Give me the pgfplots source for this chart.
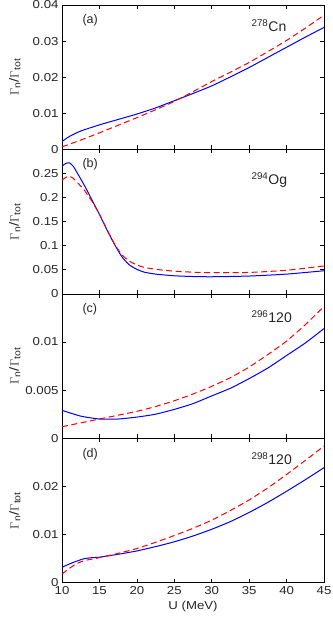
\documentclass[border=0pt]{standalone}
\usepackage{fontspec}
\setmainfont{Liberation Sans}[FakeStretch=1.15]
\newfontfamily\annfont{Liberation Sans}
\usepackage{pgfplots}
\pgfplotsset{compat=1.18}
\usepgfplotslibrary{groupplots}
\usetikzlibrary{calc}
\definecolor{mblue}{RGB}{0,0,255}
\definecolor{mred}{RGB}{255,0,0}
\definecolor{tickgray}{RGB}{38,38,38}

\begin{document}
\begin{tikzpicture}[font=\fontsize{12}{14}\selectfont,
    blue/.style={mblue},
    red/.style={mred, dash pattern=on 6pt off 3.5pt},
    tag/.style={anchor=west, font=\annfont\fontsize{12.5}{14}\selectfont, text=tickgray},
    nuc/.style={anchor=west, font=\annfont\fontsize{14}{16}\selectfont, text=tickgray}]
\begin{groupplot}[
    group style={group size=1 by 4, vertical sep=0pt,
                 x descriptions at=edge bottom},
    width=262pt, height=144.4pt, scale only axis,
    xmin=10, xmax=45, xtick={10,15,...,45},
    xticklabels={10,15,20,25,30,35,40,45},
    scaled x ticks=false, scaled y ticks=false,
    tick align=inside, tick pos=both, major tick length=4pt,
    tick label style={font=\fontsize{11.5}{14}\selectfont, text=tickgray},
    label style={font=\fontsize{11.5}{14}\selectfont, text=tickgray},
    axis line style={black, line width=0.6pt},
    every tick/.style={black, line width=0.6pt},
    xlabel={U (MeV)},
    ylabel={\fontsize{13}{14}\selectfont\(\Gamma\)\textsubscript{n}/\(\Gamma\)\textsubscript{tot}},
    ylabel style={at={(axis description cs:-0.18,0.5)}, anchor=center},
    every axis plot/.append style={line width=1pt, smooth, tension=0.35},
]
% (a) 278Cn
\nextgroupplot[ymin=0, ymax=0.04, ytick={0,0.01,0.02,0.03,0.04},
    yticklabels={0,0.01,0.02,0.03,0.04}]
\addplot[blue] coordinates {
    (10,0.0022) (11,0.0036) (12.5,0.0051) (15,0.0068) (17.5,0.0083)
    (20,0.0098) (22.5,0.0115) (25,0.0135) (27.5,0.0155) (30,0.0176) (32.5,0.0201)
    (35,0.0227) (37.5,0.0255) (40,0.0283) (42.5,0.0311) (45,0.0338)
};
\addplot[red] coordinates {
    (10,0.0007) (12.5,0.0026) (15,0.0046) (17.5,0.0067) (20,0.0088) (22.5,0.0110)
    (25,0.0133) (27.5,0.0160) (30,0.0188) (32.5,0.0214) (35,0.0241) (37.5,0.0271)
    (40,0.0302) (42.5,0.0336) (45,0.0372)
};
\node[tag] at (axis description cs:0.065,0.895) {(a)};
\node[nuc] at (axis description cs:0.71,0.855) {\textsuperscript{278}Cn};

% (b) 294Og
\nextgroupplot[ymin=0, ymax=0.3, ytick={0,0.05,0.1,0.15,0.2,0.25},
    yticklabels={0,0.05,0.1,0.15,0.2,0.25}]
\addplot[blue] coordinates {
    (10,0.265) (10.5,0.271) (11,0.272) (11.5,0.265) (12,0.252) (13,0.225)
    (14,0.195) (15,0.165) (16,0.133) (17,0.103) (18,0.077) (19,0.060)
    (20,0.051) (21,0.045) (22.5,0.041) (25,0.0375) (27.5,0.036) (30,0.0355)
    (35,0.037) (40,0.041) (45,0.048)
};
\addplot[red] coordinates {
    (10,0.236) (10.5,0.242) (11,0.244) (11.5,0.240) (12,0.232) (13,0.215)
    (14,0.192) (15,0.165) (16,0.134) (17,0.104) (18,0.081) (19,0.068)
    (20,0.060) (21,0.055) (22.5,0.051) (25,0.047) (27.5,0.045) (30,0.044)
    (35,0.0445) (40,0.049) (45,0.058)
};
\node[tag] at (axis description cs:0.065,0.895) {(b)};
\node[nuc] at (axis description cs:0.71,0.79) {\textsuperscript{294}Og};

% (c) 296120
\nextgroupplot[ymin=0, ymax=0.015, ytick={0,0.005,0.01},
    yticklabels={0,0.005,0.01}]
\addplot[blue] coordinates {
    (10,0.0029) (12.5,0.0023) (15,0.0020)
    (17.5,0.0020) (20,0.0022) (22.5,0.0025) (25,0.0030) (27.5,0.0036) (30,0.0044)
    (32.5,0.0052) (35,0.0062) (37.5,0.0073) (40,0.0086) (42.5,0.0099) (45,0.0114)
};
\addplot[red] coordinates {
    (10,0.0012) (12.5,0.0016) (15,0.0020) (17.5,0.0024) (20,0.0028) (22.5,0.0033)
    (25,0.0039) (27.5,0.0046) (30,0.0054) (32.5,0.0063) (35,0.0074) (37.5,0.0087)
    (40,0.0101) (42.5,0.0118) (45,0.0137)
};
\node[tag] at (axis description cs:0.065,0.89) {(c)};
\node[nuc] at (axis description cs:0.71,0.84) {\textsuperscript{296}120};

% (d) 298120
\nextgroupplot[ymin=0, ymax=0.03, ytick={0,0.01,0.02},
    yticklabels={0,0.01,0.02}]
\addplot[blue] coordinates {
    (10,0.0032) (11,0.0039) (12,0.0045) (13,0.0050) (14,0.0052) (15,0.0053)
    (17.5,0.0059) (20,0.0066) (22.5,0.0075) (25,0.0085) (27.5,0.0097) (30,0.0111)
    (32.5,0.0127) (35,0.0146) (37.5,0.0167) (40,0.0190) (42.5,0.0214) (45,0.0239)
};
\addplot[red] coordinates {
    (10,0.0018) (11,0.0030) (12,0.0040) (13,0.0046) (14,0.0049) (15,0.0052)
    (17.5,0.0061) (20,0.0071) (22.5,0.0084) (25,0.0098) (27.5,0.0113) (30,0.0130)
    (32.5,0.0150) (35,0.0172) (37.5,0.0197) (40,0.0225) (42.5,0.0254) (45,0.0284)
};
\node[tag] at (axis description cs:0.065,0.89) {(d)};
\node[nuc] at (axis description cs:0.71,0.86) {\textsuperscript{298}120};
\end{groupplot}
\pgfresetboundingbox
\path[use as bounding box] ($(group c1r1.north west)+(-62pt,5pt)$)
    rectangle ($(group c1r4.south east)+(8pt,-42.3pt)$);
\end{tikzpicture}
\end{document}
